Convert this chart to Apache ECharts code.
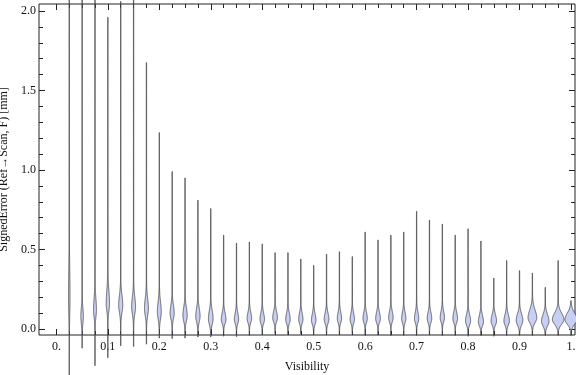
<!DOCTYPE html>
<html>
<head>
<meta charset="utf-8">
<script src="https://cdn.jsdelivr.net/npm/echarts@6/dist/echarts.min.js"></script>
<style>
html, body { margin: 0; padding: 0; background: #fff; }
#main { width: 576px; height: 375px; }
</style>
</head>
<body>
<div id="main"></div>
<script>
// 每个小提琴的位置 (Visibility)
var positions = [0.025, 0.05, 0.075, 0.1, 0.125, 0.15, 0.175, 0.2, 0.225, 0.25,
    0.275, 0.3, 0.325, 0.35, 0.375, 0.4, 0.425, 0.45, 0.475, 0.5,
    0.525, 0.55, 0.575, 0.6, 0.625, 0.65, 0.675, 0.7, 0.725, 0.75,
    0.775, 0.8, 0.825, 0.85, 0.875, 0.9, 0.925, 0.95, 0.975, 1.0];
// 最大值 / 最小值 (mm)
var maxVals = [2.6, 2.6, 2.6, 1.96, 2.06, 2.6, 1.675, 1.235, 0.99, 0.95,
    0.81, 0.757, 0.59, 0.54, 0.547, 0.535, 0.48, 0.48, 0.44, 0.40,
    0.47, 0.486, 0.455, 0.61, 0.56, 0.59, 0.61, 0.74, 0.685, 0.66,
    0.59, 0.63, 0.553, 0.32, 0.43, 0.367, 0.352, 0.262, 0.43, 0.178];
var minVals = [-0.32, -0.12, -0.23, -0.18, -0.105, -0.11, -0.095, -0.057, -0.06, -0.057,
    -0.05, -0.05, -0.045, -0.048, -0.04, -0.035, -0.03, -0.035, -0.03, -0.035,
    -0.03, -0.035, -0.03, -0.04, -0.035, -0.04, -0.04, -0.04, -0.035, -0.04,
    -0.04, -0.045, -0.04, -0.045, -0.04, -0.04, -0.04, -0.04, -0.04, -0.04];
// 密度峰值所在位置、峰值密度、上下扩展
var modes = [0.2, 0.08, 0.12, 0.16, 0.15, 0.14, 0.13, 0.11, 0.1, 0.085,
    0.08, 0.065, 0.06, 0.06, 0.065, 0.06, 0.07, 0.06, 0.06, 0.055,
    0.06, 0.065, 0.06, 0.065, 0.065, 0.07, 0.065, 0.065, 0.065, 0.07,
    0.065, 0.05, 0.045, 0.05, 0.05, 0.055, 0.07, 0.05, 0.06, 0.06];
var peakDensity = [0.6, 1.1, 1.3, 1.5, 1.9, 1.8, 1.8, 1.8, 1.9, 2.0,
    2.0, 2.2, 2.2, 2.0, 2.1, 2.1, 2.2, 2.1, 2.0, 2.1,
    2.2, 2.0, 2.0, 2.0, 2.2, 2.1, 2.0, 2.0, 2.1, 2.0,
    2.2, 2.4, 2.4, 2.6, 2.6, 3.2, 4.2, 3.6, 5.6, 5.9];
var upSpread = [0.16, 0.05, 0.07, 0.08, 0.06, 0.06, 0.06, 0.06, 0.05, 0.05,
    0.05, 0.05, 0.04, 0.04, 0.04, 0.04, 0.04, 0.04, 0.04, 0.04,
    0.04, 0.04, 0.04, 0.04, 0.04, 0.04, 0.04, 0.04, 0.04, 0.04,
    0.04, 0.04, 0.04, 0.04, 0.04, 0.04, 0.05, 0.04, 0.04, 0.04];
var downSpread = [0.1, 0.045, 0.045, 0.045, 0.045, 0.045, 0.045, 0.045, 0.035, 0.035,
    0.035, 0.035, 0.025, 0.025, 0.025, 0.025, 0.025, 0.025, 0.025, 0.025,
    0.025, 0.025, 0.025, 0.025, 0.025, 0.025, 0.025, 0.025, 0.025, 0.025,
    0.025, 0.025, 0.025, 0.025, 0.025, 0.03, 0.03, 0.03, 0.03, 0.03];

// 刻度
var xMajor = [0, 0.1, 0.2, 0.3, 0.4, 0.5, 0.6, 0.7, 0.8, 0.9, 1.0];
var xMinor = [0.025, 0.05, 0.075, 0.125, 0.15, 0.175, 0.225, 0.25, 0.275,
    0.325, 0.35, 0.375, 0.425, 0.45, 0.475, 0.525, 0.55, 0.575,
    0.625, 0.65, 0.675, 0.725, 0.75, 0.775, 0.825, 0.85, 0.875,
    0.925, 0.95, 0.975];
var yMajor = [0, 0.5, 1.0, 1.5, 2.0];
var yMinor = [0.1, 0.2, 0.3, 0.4, 0.6, 0.7, 0.8, 0.9, 1.1, 1.2, 1.3, 1.4,
    1.6, 1.7, 1.8, 1.9];

var X_MIN = -0.0338, X_MAX = 1.0078;
var Y_MIN = -0.0377, Y_MAX = 2.044;
var DENSITY_SCALE = 0.00194; // x units per density unit
var NECK = 0.0003;

var font = { fontFamily: 'Liberation Serif', fontSize: 12, color: '#111' };

var violinData = positions.map(function (p, i) {
    return [p, minVals[i], maxVals[i], modes[i], peakDensity[i], upSpread[i], downSpread[i]];
});

function renderViolin(params, api) {
    var pos = api.value(0), lo = api.value(1), hi = api.value(2);
    var mode = api.value(3), dens = api.value(4), sUp = api.value(5), sDn = api.value(6);
    var right = [], left = [];
    var n = Math.ceil((hi - lo) / 0.003);
    for (var i = 0; i <= n; i++) {
        var y = lo + (hi - lo) * i / n;
        var t = (y - mode) / (y > mode ? sUp : sDn);
        var w = NECK + dens * DENSITY_SCALE * Math.exp(-0.5 * t * t);
        right.push(api.coord([pos + w, y]));
        left.unshift(api.coord([pos - w, y]));
    }
    return {
        type: 'polygon',
        shape: { points: right.concat(left) },
        style: { fill: 'rgb(200,207,244)', stroke: 'rgba(60,60,60,0.75)', lineWidth: 1 }
    };
}

function xAxisOf(position, ticks, len, labels) {
    return {
        type: 'value', position: position, min: X_MIN, max: X_MAX, offset: 0,
        axisLine: { show: false, onZero: false }, splitLine: { show: false },
        axisTick: { show: true, inside: true, length: len, customValues: ticks,
            lineStyle: { color: '#222', width: 1 } },
        axisLabel: labels ? {
            show: true, customValues: ticks, margin: 6,
            fontFamily: font.fontFamily, fontSize: font.fontSize, color: font.color,
            formatter: function (v) {
                if (v === 0) return '0.';
                if (v === 1) return '1.';
                return v.toFixed(1);
            }
        } : { show: false }
    };
}

function yAxisOf(position, ticks, len, labels) {
    return {
        type: 'value', position: position, min: Y_MIN, max: Y_MAX, offset: 0,
        axisLine: { show: false, onZero: false }, splitLine: { show: false },
        axisTick: { show: true, inside: true, length: len, customValues: ticks,
            lineStyle: { color: '#222', width: 1 } },
        axisLabel: labels ? {
            show: true, customValues: ticks, margin: 3,
            fontFamily: font.fontFamily, fontSize: font.fontSize, color: font.color,
            formatter: function (v) { return v.toFixed(1); }
        } : { show: false }
    };
}

var myChart = echarts.init(document.getElementById('main'));

var xMain = xAxisOf('bottom', xMajor, 6, true);
xMain.name = 'Visibility';
xMain.nameLocation = 'middle';
xMain.nameGap = 26;
xMain.nameTextStyle = { fontFamily: font.fontFamily, fontSize: 12, color: '#111' };

var yMain = yAxisOf('left', yMajor, 6, true);
yMain.name = 'SignedError (Ref\u2192Scan, F) [mm]';
yMain.nameLocation = 'middle';
yMain.nameGap = 20;
yMain.nameTextStyle = { fontFamily: font.fontFamily, fontSize: 12, color: '#111' };

var option = {
    animation: false,
    backgroundColor: '#fff',
    grid: { left: 39, right: 1, top: 4, bottom: 40, show: true, containLabel: false,
        outerBoundsMode: 'none',
        borderColor: '#222', borderWidth: 1, backgroundColor: 'transparent' },
    xAxis: [
        xMain,
        xAxisOf('bottom', xMinor, 4, false),
        xAxisOf('top', xMajor, 6, false),
        xAxisOf('top', xMinor, 4, false)
    ],
    yAxis: [
        yMain,
        yAxisOf('left', yMinor, 4, false),
        yAxisOf('right', yMajor, 6, false),
        yAxisOf('right', yMinor, 4, false)
    ],
    series: [{
        type: 'custom',
        xAxisIndex: 0,
        yAxisIndex: 0,
        clip: false,
        renderItem: renderViolin,
        data: violinData
    }]
};

myChart.setOption(option);
</script>
</body>
</html>
